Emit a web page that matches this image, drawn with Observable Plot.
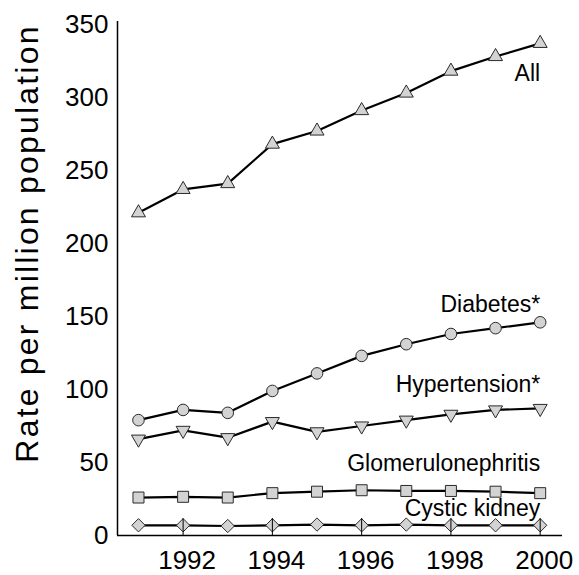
<!DOCTYPE html>
<html>
<head>
<meta charset="utf-8">
<script src="https://cdn.jsdelivr.net/npm/d3@7"></script>
<script src="https://cdn.jsdelivr.net/npm/@observablehq/plot@0.6"></script>
<style>
  html, body { margin: 0; padding: 0; background: #fff; }
  #chart svg { font-family: "Liberation Sans", Arial, sans-serif; }
</style>
</head>
<body>
<div id="chart"></div>
<script>
// ---- Data ----
const years = [1991, 1992, 1993, 1994, 1995, 1996, 1997, 1998, 1999, 2000];
const allRate = [221, 237, 241, 268, 277, 291, 303, 318, 328, 337];
const diabetesRate = [79, 86, 84, 99, 111, 123, 131, 138, 142, 146];
const hypertensionRate = [66, 72, 67, 78, 71, 75, 79, 83, 86, 87];
const glomerRate = [26, 26.5, 26, 29, 30, 31, 30.5, 30.5, 30, 29];
const cysticRate = [7, 7, 6.5, 7, 7.5, 7, 7.5, 7, 7, 7];

const seriesNames = ["All", "Diabetes*", "Hypertension*", "Glomerulonephritis", "Cystic kidney"];
const seriesValues = [allRate, diabetesRate, hypertensionRate, glomerRate, cysticRate];
const labelYear = [2000, 2000, 2000, 2000, 2000];
const labelValue = [316, 158, 103, 49, 18.5];

const xTicks = [1992, 1994, 1996, 1998, 2000];
const yTicks = [0, 50, 100, 150, 200, 250, 300, 350];
const yTitle = "Rate per million population";

// custom downward triangle symbol
const triangleDown = {
  draw(context, size) {
    const y = -Math.sqrt(size / (Math.sqrt(3) * 3));
    context.moveTo(0, -y * 2);
    context.lineTo(-Math.sqrt(3) * y, y);
    context.lineTo(Math.sqrt(3) * y, y);
    context.closePath();
  }
};
const symbols = ["triangle", "circle", triangleDown, "square", "diamond2"];
const radii = [5.2, 5.8, 5.2, 6.2, 6];

const rows = seriesNames.flatMap((name, i) =>
  years.map((year, j) => ({ series: name, year, value: seriesValues[i][j] }))
);
const labels = seriesNames.map((name, i) => ({ name, year: labelYear[i], value: labelValue[i] }));

const marks = [
  Plot.ruleY([0], { stroke: "#000", strokeWidth: 1.5 }),
  Plot.ruleX([1990.53], { y1: 0, y2: 352, stroke: "#000", strokeWidth: 1.5 }),
  Plot.axisX(xTicks, { tickSize: 0, tickPadding: 15, fontSize: 26, dx: 4, tickFormat: "d", label: null }),
  Plot.axisY(yTicks, { tickSize: 0, tickPadding: 9, fontSize: 26, label: null }),
  Plot.line(rows, { x: "year", y: "value", z: "series", stroke: "#000", strokeWidth: 2.2 })
];
seriesNames.forEach((name, i) => {
  marks.push(Plot.dot(rows.filter(d => d.series === name), {
    x: "year", y: "value", symbol: symbols[i], r: radii[i],
    fill: "#d3d3d3", stroke: "#2a2a2a", strokeWidth: 1
  }));
});
marks.push(
  Plot.ruleX(xTicks, { y1: 0, y2: 11.5, stroke: "#000", strokeWidth: 1 }),
  Plot.text(labels, { x: "year", y: "value", text: "name", textAnchor: "end", lineAnchor: "middle", fontSize: 23, fill: "#000" }),
  Plot.text([yTitle], { frameAnchor: "left", rotate: -90, textAnchor: "middle", lineAnchor: "bottom", dx: -80, dy: -35, fontSize: 32, fill: "#000" })
);

const chart = Plot.plot({
  width: 579,
  height: 575,
  marginLeft: 117,
  marginRight: 17,
  marginTop: 21,
  marginBottom: 40,
  x: { domain: [1990.53, 2000.5] },
  y: { domain: [0, 352] },
  style: { fontFamily: "Liberation Sans, Arial, sans-serif", color: "#000", background: "#fff" },
  marks
});
d3.select(chart).selectAll("text")
  .filter(function () { return this.textContent === yTitle; })
  .style("letter-spacing", "2.2px");
document.getElementById("chart").appendChild(chart);
</script>
</body>
</html>
